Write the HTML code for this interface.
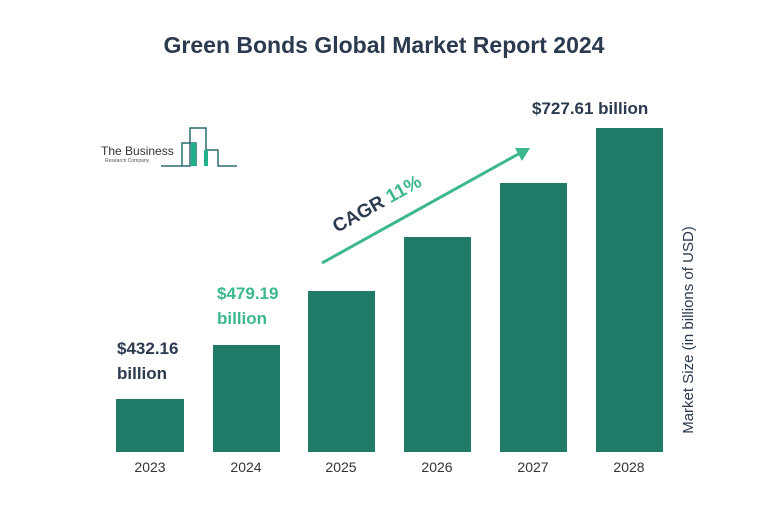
<!DOCTYPE html>
<html><head><style>
body{margin:0;width:768px;height:525px;background:#fff;overflow:hidden;font-family:"Liberation Sans",sans-serif;}
</style></head><body>
<svg width="768" height="525" xmlns="http://www.w3.org/2000/svg" font-family="Liberation Sans, sans-serif">
<text x="384" y="53" text-anchor="middle" font-size="23" font-weight="bold" fill="#2b3a4f">Green Bonds Global Market Report 2024</text>
<!-- logo -->
<g stroke="#2c6a72" stroke-width="1.5" fill="none">
<polyline points="161,166 190,166 190,128 206,128 206,150 218,150 218,166 237,166"/>
<polyline points="182,166 182,143 196,143 196,166"/>
</g>
<rect x="191" y="143" width="5" height="23" fill="#22b08a"/>
<rect x="204" y="150" width="4" height="16" fill="#22b08a"/>
<text x="101" y="155" font-size="12" fill="#333">The Business</text>
<text x="105" y="162" font-size="5" fill="#555">Research Company</text>
<!-- bars -->
<g fill="#1f7a68">
<rect x="116" y="399" width="68" height="53"/>
<rect x="213" y="345" width="67" height="107"/>
<rect x="308" y="291" width="67" height="161"/>
<rect x="404" y="237" width="67" height="215"/>
<rect x="500" y="183" width="67" height="269"/>
<rect x="596" y="128" width="67" height="324"/>
</g>
<g font-size="14" fill="#333" text-anchor="middle">
<text x="150" y="472">2023</text><text x="246" y="472">2024</text><text x="341" y="472">2025</text>
<text x="437" y="472">2026</text><text x="533" y="472">2027</text><text x="629" y="472">2028</text>
</g>
<g font-size="17" font-weight="bold">
<text x="117" y="354" fill="#2b3a4f">$432.16</text><text x="117" y="379" fill="#2b3a4f">billion</text>
<text x="217" y="299" fill="#3cb98a">$479.19</text><text x="217" y="324" fill="#3cb98a">billion</text>
<text x="532" y="114" fill="#2b3a4f">$727.61 billion</text>
</g>
<line x1="322" y1="263" x2="522" y2="152" stroke="#3cb98a" stroke-width="3"/>
<polygon points="530,148 515,148 522,161" fill="#3cb98a"/>
<text transform="translate(337,233) rotate(-29)" font-size="19" font-weight="bold"><tspan fill="#2b3a4f">CAGR </tspan><tspan fill="#3cb98a">11%</tspan></text>
<text transform="translate(693,330) rotate(-90)" font-size="15" fill="#2b3a4f" text-anchor="middle">Market Size (in billions of USD)</text>
</svg>
</body></html>
